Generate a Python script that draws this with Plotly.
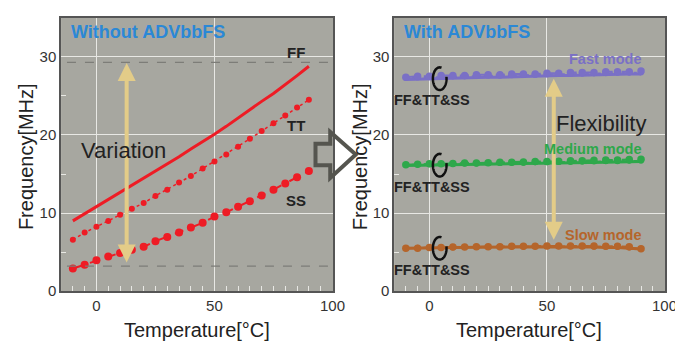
import numpy as np
import plotly.graph_objects as go

W, H = 683, 342

# ---------------- data ----------------
temps = [-10, -5, 0, 5, 10, 15, 20, 25, 30, 35, 40, 45, 50, 55, 60, 65, 70, 75, 80, 85, 90]

ff_without = [9.0, 9.9, 10.8, 11.8, 12.7, 13.6, 14.5, 15.4, 16.2, 17.2, 18.2, 19.1,
              20.1, 21.1, 22.2, 23.3, 24.3, 25.3, 26.4, 27.6, 28.8]
tt_without = [6.6, 7.5, 8.25, 9.0, 9.8, 10.55, 11.3, 12.2, 13.0, 13.9, 14.75, 15.7,
              16.6, 17.5, 18.5, 19.5, 20.5, 21.5, 22.5, 23.5, 24.5]
ss_without = [2.9, 3.4, 3.95, 4.45, 4.9, 5.3, 5.7, 6.4, 6.95, 7.5, 8.15, 8.75,
              9.55, 10.1, 10.8, 11.5, 12.25, 13.0, 13.8, 14.6, 15.4]

fast_ff = [27.1, 27.15, 27.2, 27.25, 27.3, 27.3, 27.35, 27.4, 27.4, 27.45, 27.5, 27.5,
           27.55, 27.6, 27.6, 27.65, 27.7, 27.7, 27.75, 27.8, 27.8]
fast_tt = [27.3, 27.35, 27.4, 27.45, 27.5, 27.5, 27.55, 27.6, 27.6, 27.65, 27.7, 27.7,
           27.75, 27.8, 27.8, 27.85, 27.9, 27.9, 27.95, 28.0, 28.0]
fast_ss = [27.4, 27.5, 27.5, 27.6, 27.6, 27.6, 27.7, 27.7, 27.7, 27.8, 27.8, 27.8,
           27.9, 27.9, 28.0, 28.0, 28.0, 28.1, 28.1, 28.1, 28.2]

med_ff = [16.1, 16.12, 16.15, 16.18, 16.2, 16.22, 16.25, 16.28, 16.3, 16.32, 16.35, 16.38,
          16.4, 16.42, 16.45, 16.48, 16.5, 16.52, 16.55, 16.58, 16.6]
med_tt = [16.2, 16.22, 16.25, 16.3, 16.3, 16.35, 16.35, 16.4, 16.4, 16.45, 16.45, 16.5,
          16.5, 16.55, 16.55, 16.6, 16.6, 16.65, 16.65, 16.7, 16.7]
med_ss = [16.2, 16.25, 16.3, 16.3, 16.35, 16.4, 16.4, 16.45, 16.5, 16.5, 16.55, 16.6,
          16.6, 16.65, 16.7, 16.7, 16.75, 16.8, 16.8, 16.85, 16.9]

slow_ff = [5.5, 5.5, 5.55, 5.55, 5.6, 5.6, 5.6, 5.65, 5.65, 5.65, 5.7, 5.7,
           5.7, 5.7, 5.7, 5.65, 5.65, 5.6, 5.6, 5.5, 5.4]
slow_tt = [5.5, 5.55, 5.55, 5.6, 5.6, 5.65, 5.65, 5.65, 5.7, 5.7, 5.7, 5.75,
           5.75, 5.75, 5.75, 5.75, 5.7, 5.7, 5.7, 5.6, 5.45]
slow_ss = [5.5, 5.5, 5.6, 5.6, 5.65, 5.65, 5.7, 5.7, 5.7, 5.75, 5.75, 5.75,
           5.8, 5.8, 5.8, 5.8, 5.8, 5.75, 5.75, 5.7, 5.45]

x_ticks = [0, 50, 100]
y_ticks = [0, 10, 20, 30]
variation_bounds = [3.2, 29.3]   # dashed reference levels
variation_arrow = [12.8, 3.5, 29.2]  # x, y_low, y_high
flex_arrow = [52.9, 6.4, 27.2]

# ---------------- styles ----------------
FONT = "Arial, Liberation Sans, sans-serif"
BG = "#a7a7a0"
RED = "#ee1c25"
PURPLE = "#7a70c6"
GREEN = "#2ea84b"
BROWN = "#b5652b"
TAN = "#e3cc88"
DARK = "#222222"
BLUE = "#2b88d6"


def px(x):
    return x / W


def py(y):
    return 1 - y / H


fig = go.Figure()

# left panel
fig.add_trace(go.Scatter(x=temps, y=ff_without, mode="lines",
                         line=dict(color=RED, width=3), xaxis="x", yaxis="y", showlegend=False))
fig.add_trace(go.Scatter(x=temps, y=tt_without, mode="lines+markers",
                         line=dict(color=RED, width=1.5, dash="dot"),
                         marker=dict(color=RED, size=6), xaxis="x", yaxis="y", showlegend=False))
fig.add_trace(go.Scatter(x=temps, y=ss_without, mode="lines+markers",
                         line=dict(color=RED, width=2, dash="dash"),
                         marker=dict(color=RED, size=8), xaxis="x", yaxis="y", showlegend=False))

# right panel
for col, ffv, ttv, ssv in [(PURPLE, fast_ff, fast_tt, fast_ss),
                           (GREEN, med_ff, med_tt, med_ss),
                           (BROWN, slow_ff, slow_tt, slow_ss)]:
    fig.add_trace(go.Scatter(x=temps, y=ffv, mode="lines", line=dict(color=col, width=3),
                             xaxis="x2", yaxis="y2", showlegend=False))
    fig.add_trace(go.Scatter(x=temps, y=ttv, mode="lines+markers",
                             line=dict(color=col, width=1.5, dash="dot"),
                             marker=dict(color=col, size=6), xaxis="x2", yaxis="y2", showlegend=False))
    fig.add_trace(go.Scatter(x=temps, y=ssv, mode="lines+markers",
                             line=dict(color=col, width=2, dash="dash"),
                             marker=dict(color=col, size=7.5), xaxis="x2", yaxis="y2", showlegend=False))

axis_common = dict(
    showline=True, linecolor="#555555", linewidth=1.5, mirror=True,
    showgrid=True, gridcolor="#e8e8e4", gridwidth=1, zeroline=False,
    ticks="inside", ticklen=5, tickcolor="#e8e8e4", tickwidth=1,
    tickfont=dict(family=FONT, size=15, color="#333333"),
)

xdom1 = [px(54), px(331)]
xdom2 = [px(393), px(669)]
ydom = [py(290), py(10)]

for i, (xd, anchor) in enumerate([(xdom1, "y"), (xdom2, "y2")]):
    key = "xaxis" if i == 0 else "xaxis2"
    d = dict(axis_common)
    d.update(domain=xd, anchor=anchor, range=[-15, 100.3], tickvals=x_ticks,
             minor=dict(dtick=5, tick0=0, ticks="inside", ticklen=5, tickcolor="#e8e8e4", showgrid=False))
    fig.layout[key] = d
for i, anchor in enumerate(["x", "x2"]):
    key = "yaxis" if i == 0 else "yaxis2"
    d = dict(axis_common)
    d.update(domain=ydom, anchor=anchor, range=[0, 35], tickvals=y_ticks,
             minor=dict(dtick=5, tick0=0, ticks="inside", ticklen=5, tickcolor="#e8e8e4", showgrid=False))
    fig.layout[key] = d

shapes = []
# dashed reference lines (left)
for yv in variation_bounds:
    shapes.append(dict(type="line", xref="x", yref="y", x0=-12.5, x1=100, y0=yv, y1=yv,
                       line=dict(color="#7d7d78", width=1.2, dash="dash")))

# "C" shaped ellipses (right), centered on each mode's curve at 5 degC
idx5 = temps.index(5)
theta = np.radians(np.linspace(75, 370, 60))
for vals in [fast_ff, med_ff, slow_ff]:
    cx, cy = 4.4, vals[idx5] - 0.05
    xs = cx + 2.9 * np.cos(theta)
    ys = cy + 1.45 * np.sin(theta)
    path = "M " + " L ".join(f"{a:.3f},{b:.3f}" for a, b in zip(xs, ys))
    shapes.append(dict(type="path", xref="x2", yref="y2", path=path,
                       line=dict(color="#111111", width=2.5)))

# big hollow arrow between panels
pts = [(313, 139), (328, 139), (328, 127), (354, 150), (328, 174), (328, 161), (313, 161)]
path = "M " + " L ".join(f"{px(a):.5f},{py(b):.5f}" for a, b in pts) + " Z"
shapes.append(dict(type="path", xref="paper", yref="paper", path=path,
                   line=dict(color="#55554f", width=4), fillcolor="rgba(0,0,0,0)"))

annotations = []
# arrows
for (xr, yr, (ax_x, ylo, yhi)) in [("x", "y", variation_arrow), ("x2", "y2", flex_arrow)]:
    annotations.append(dict(x=ax_x, y=yhi, ax=ax_x, ay=ylo, xref=xr, yref=yr, axref=xr, ayref=yr,
                            showarrow=True, arrowhead=2, startarrowhead=2, arrowside="end+start",
                            arrowsize=0.9, startarrowsize=0.9, arrowwidth=4, arrowcolor=TAN, text=""))


def txt(text, x, y, size, color, bold=False, xanchor="center", angle=0):
    annotations.append(dict(text=f"<b>{text}</b>" if bold else text, x=px(x), y=py(y),
                            xref="paper", yref="paper", showarrow=False, xanchor=xanchor,
                            yanchor="middle", textangle=angle, borderpad=0,
                            font=dict(family=FONT, size=size, color=color)))


txt("Without ADVbbFS", 63, 25, 18, BLUE, bold=True, xanchor="left")
txt("With ADVbbFS", 402, 25, 18, BLUE, bold=True, xanchor="left")
txt("FF", 293, 46, 15, DARK, bold=True)
txt("TT", 293, 120, 15, DARK, bold=True)
txt("SS", 293, 197, 15, DARK, bold=True)
txt("Variation", 118, 146, 22, DARK)
txt("Flexibility", 604, 118, 22, DARK)
txt("Fast mode", 608, 52, 14.5, PURPLE, bold=True)
txt("Medium mode", 595, 144, 14.5, GREEN, bold=True)
txt("Slow mode", 606, 232, 14.5, BROWN, bold=True)
for yy in [94, 183, 268]:
    txt("FF&amp;TT&amp;SS", 432, yy, 14.5, DARK, bold=True)
txt("Frequency[MHz]", 19, 152, 20, DARK, angle=-90)
txt("Frequency[MHz]", 359, 152, 20, DARK, angle=-90)
txt("Temperature[°C]", 192, 330, 20, DARK)
txt("Temperature[°C]", 530, 330, 20, DARK)

fig.update_layout(
    width=W, height=H, margin=dict(l=0, r=0, t=0, b=0),
    paper_bgcolor="white", plot_bgcolor=BG,
    shapes=shapes, annotations=annotations, showlegend=False,
)

fig.write_html("out.html")
